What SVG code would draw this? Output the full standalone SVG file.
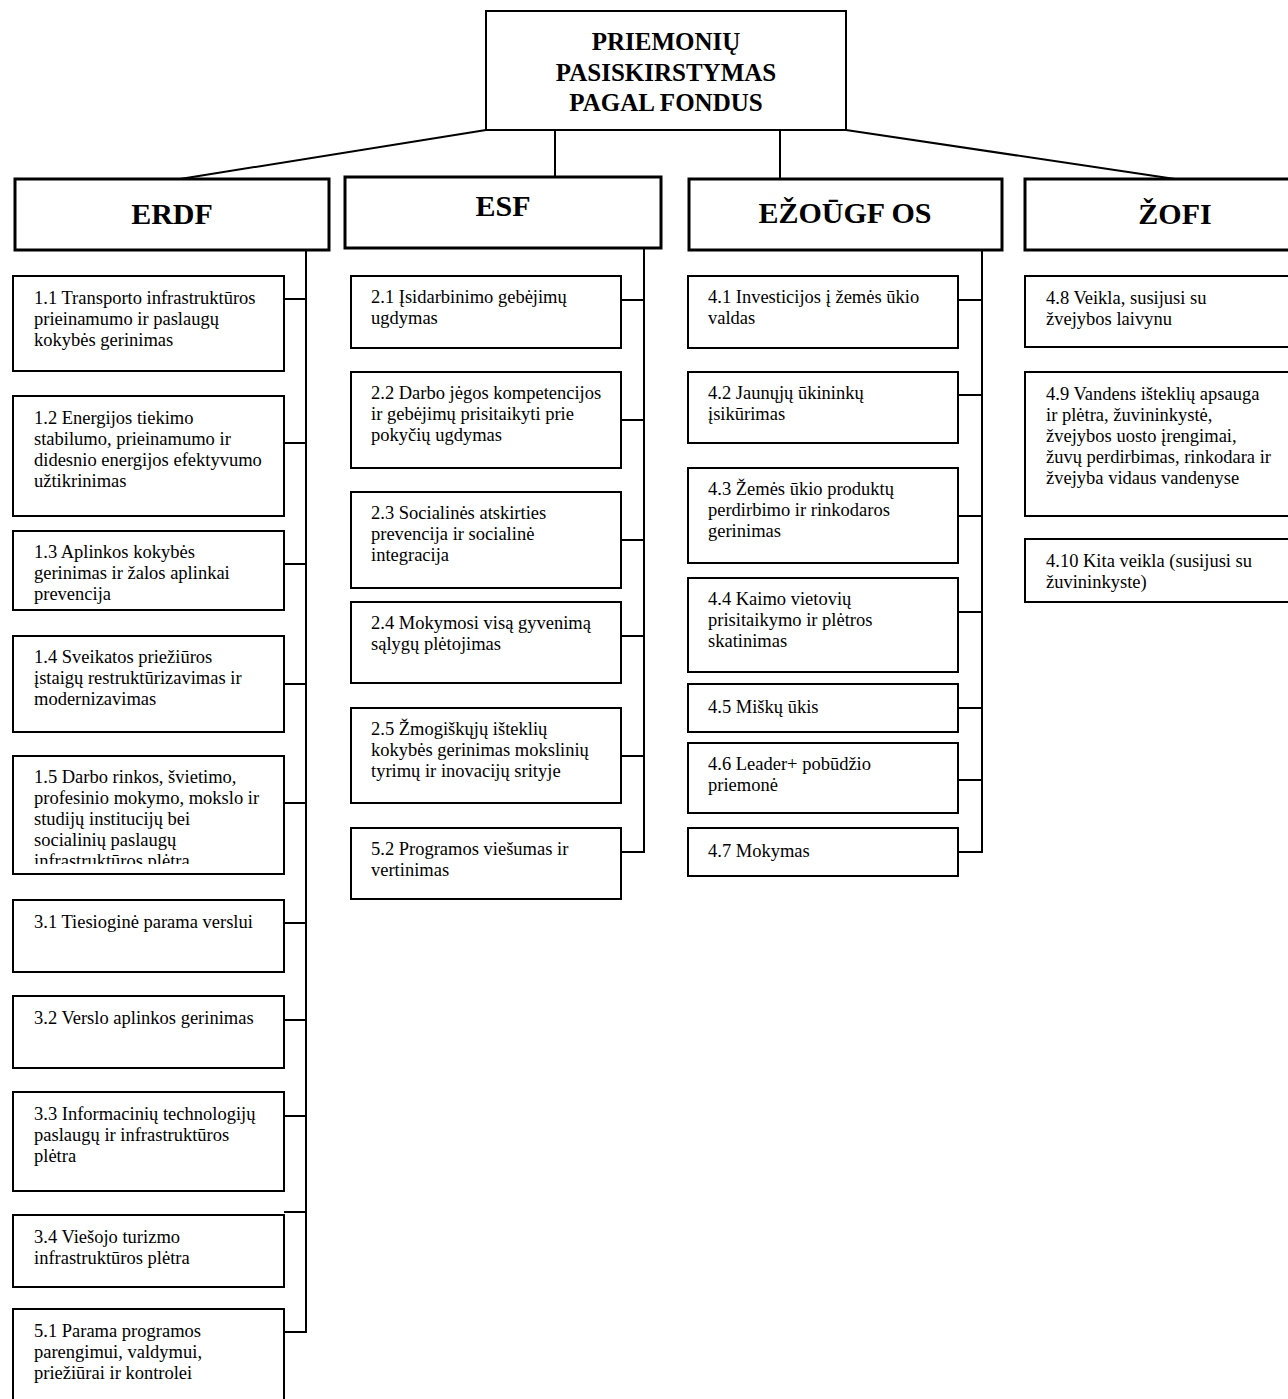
<svg xmlns="http://www.w3.org/2000/svg" width="1288" height="1399" viewBox="0 0 1288 1399">
<style>
.box{fill:#fff;stroke:#000;stroke-width:2}
.hdr{fill:#fff;stroke:#000;stroke-width:3}
.t{font-family:"Liberation Serif","Times New Roman",serif;font-size:18.5px;fill:#000}
.h{font-family:"Liberation Serif","Times New Roman",serif;font-size:30px;font-weight:bold;text-anchor:middle;fill:#000}
.ti{font-family:"Liberation Serif","Times New Roman",serif;font-size:25px;font-weight:bold;text-anchor:middle;fill:#000}
.c{stroke:#000;stroke-width:2;fill:none}
</style>
<defs>
<clipPath id="clip13"><rect x="13" y="531" width="271" height="73"/></clipPath>
<clipPath id="clip15"><rect x="13" y="756" width="271" height="108"/></clipPath>
</defs>
<rect width="1288" height="1399" fill="#fff"/>

<g id="connectors">
<line class="c" x1="486" y1="130" x2="180" y2="179"/>
<line class="c" x1="555" y1="130" x2="555" y2="177"/>
<line class="c" x1="780" y1="130" x2="780" y2="179"/>
<line class="c" x1="846" y1="130" x2="1175" y2="179"/>
<line class="c" x1="306" y1="250" x2="306" y2="1333"/>
<line class="c" x1="644" y1="248" x2="644" y2="853"/>
<line class="c" x1="982" y1="250" x2="982" y2="853"/>
<path class="c" d="M284 299H306M284 443H306M284 564H306M284 684H306M284 803H306M284 923H306M284 1020H306M284 1116H306M284 1212H306M284 1332H306"/>
<path class="c" d="M621 300H644M621 420H644M621 540H644M621 636H644M621 756H644M621 852H644"/>
<path class="c" d="M958 300H982M958 395H982M958 516H982M958 612H982M958 708H982M958 780H982M958 852H982"/>
</g>

<g id="root">
<rect class="box" x="486" y="11" width="360" height="119"/>
<text class="ti"><tspan x="666" y="50">PRIEMONIŲ</tspan><tspan x="666" y="81">PASISKIRSTYMAS</tspan><tspan x="666" y="111">PAGAL FONDUS</tspan></text>
</g>

<g id="erdf"><rect class="hdr" x="15" y="179" width="314" height="71"/><text class="h" x="172" y="224">ERDF</text></g>
<g id="esf"><rect class="hdr" x="345" y="177" width="316" height="71"/><text class="h" x="503" y="216">ESF</text></g>
<g id="ezougf"><rect class="hdr" x="689" y="179" width="313" height="71"/><text class="h" x="845" y="223">EŽOŪGF OS</text></g>
<g id="zofi"><rect class="hdr" x="1025" y="179" width="300" height="71"/><text class="h" x="1175" y="224">ŽOFI</text></g>

<g id="n11"><rect class="box" x="13" y="276" width="271" height="95"/><text class="t"><tspan x="34" y="304">1.1 Transporto infrastruktūros</tspan><tspan x="34" dy="21">prieinamumo ir paslaugų</tspan><tspan x="34" dy="21">kokybės gerinimas</tspan></text></g>
<g id="n12"><rect class="box" x="13" y="396" width="271" height="120"/><text class="t"><tspan x="34" y="424">1.2 Energijos tiekimo</tspan><tspan x="34" dy="21">stabilumo, prieinamumo ir</tspan><tspan x="34" dy="21">didesnio energijos efektyvumo</tspan><tspan x="34" dy="21">užtikrinimas</tspan></text></g>
<g id="n13"><rect class="box" x="13" y="531" width="271" height="79"/><text class="t" clip-path="url(#clip13)"><tspan x="34" y="558">1.3 Aplinkos kokybės</tspan><tspan x="34" dy="21">gerinimas ir žalos aplinkai</tspan><tspan x="34" dy="21">prevencija</tspan></text></g>
<g id="n14"><rect class="box" x="13" y="636" width="271" height="96"/><text class="t"><tspan x="34" y="663">1.4 Sveikatos priežiūros</tspan><tspan x="34" dy="21">įstaigų restruktūrizavimas ir</tspan><tspan x="34" dy="21">modernizavimas</tspan></text></g>
<g id="n15"><rect class="box" x="13" y="756" width="271" height="118"/><text class="t" clip-path="url(#clip15)"><tspan x="34" y="783">1.5 Darbo rinkos, švietimo,</tspan><tspan x="34" dy="21">profesinio mokymo, mokslo ir</tspan><tspan x="34" dy="21">studijų institucijų bei</tspan><tspan x="34" dy="21">socialinių paslaugų</tspan><tspan x="34" dy="21">infrastruktūros plėtra</tspan></text></g>
<g id="n31"><rect class="box" x="13" y="900" width="271" height="72"/><text class="t"><tspan x="34" y="928">3.1 Tiesioginė parama verslui</tspan></text></g>
<g id="n32"><rect class="box" x="13" y="996" width="271" height="72"/><text class="t"><tspan x="34" y="1024">3.2 Verslo aplinkos gerinimas</tspan></text></g>
<g id="n33"><rect class="box" x="13" y="1092" width="271" height="99"/><text class="t"><tspan x="34" y="1120">3.3 Informacinių technologijų</tspan><tspan x="34" dy="21">paslaugų ir infrastruktūros</tspan><tspan x="34" dy="21">plėtra</tspan></text></g>
<g id="n34"><rect class="box" x="13" y="1215" width="271" height="72"/><text class="t"><tspan x="34" y="1243">3.4 Viešojo turizmo</tspan><tspan x="34" dy="21">infrastruktūros plėtra</tspan></text></g>
<g id="n51"><rect class="box" x="13" y="1309" width="271" height="100"/><text class="t"><tspan x="34" y="1337">5.1 Parama programos</tspan><tspan x="34" dy="21">parengimui, valdymui,</tspan><tspan x="34" dy="21">priežiūrai ir kontrolei</tspan></text></g>

<g id="n21"><rect class="box" x="351" y="276" width="270" height="72"/><text class="t"><tspan x="371" y="303">2.1 Įsidarbinimo gebėjimų</tspan><tspan x="371" dy="21">ugdymas</tspan></text></g>
<g id="n22"><rect class="box" x="351" y="372" width="270" height="96"/><text class="t"><tspan x="371" y="399">2.2 Darbo jėgos kompetencijos</tspan><tspan x="371" dy="21">ir gebėjimų prisitaikyti prie</tspan><tspan x="371" dy="21">pokyčių ugdymas</tspan></text></g>
<g id="n23"><rect class="box" x="351" y="492" width="270" height="96"/><text class="t"><tspan x="371" y="519">2.3 Socialinės atskirties</tspan><tspan x="371" dy="21">prevencija ir socialinė</tspan><tspan x="371" dy="21">integracija</tspan></text></g>
<g id="n24"><rect class="box" x="351" y="602" width="270" height="81"/><text class="t"><tspan x="371" y="629">2.4 Mokymosi visą gyvenimą</tspan><tspan x="371" dy="21">sąlygų plėtojimas</tspan></text></g>
<g id="n25"><rect class="box" x="351" y="708" width="270" height="95"/><text class="t"><tspan x="371" y="735">2.5 Žmogiškųjų išteklių</tspan><tspan x="371" dy="21">kokybės gerinimas mokslinių</tspan><tspan x="371" dy="21">tyrimų ir inovacijų srityje</tspan></text></g>
<g id="n52"><rect class="box" x="351" y="828" width="270" height="71"/><text class="t"><tspan x="371" y="855">5.2 Programos viešumas ir</tspan><tspan x="371" dy="21">vertinimas</tspan></text></g>

<g id="n41"><rect class="box" x="688" y="276" width="270" height="72"/><text class="t"><tspan x="708" y="303">4.1 Investicijos į žemės ūkio</tspan><tspan x="708" dy="21">valdas</tspan></text></g>
<g id="n42"><rect class="box" x="688" y="372" width="270" height="71"/><text class="t"><tspan x="708" y="399">4.2 Jaunųjų ūkininkų</tspan><tspan x="708" dy="21">įsikūrimas</tspan></text></g>
<g id="n43"><rect class="box" x="688" y="468" width="270" height="95"/><text class="t"><tspan x="708" y="495">4.3 Žemės ūkio produktų</tspan><tspan x="708" dy="21">perdirbimo ir rinkodaros</tspan><tspan x="708" dy="21">gerinimas</tspan></text></g>
<g id="n44"><rect class="box" x="688" y="578" width="270" height="94"/><text class="t"><tspan x="708" y="605">4.4 Kaimo vietovių</tspan><tspan x="708" dy="21">prisitaikymo ir plėtros</tspan><tspan x="708" dy="21">skatinimas</tspan></text></g>
<g id="n45"><rect class="box" x="688" y="684" width="270" height="48"/><text class="t"><tspan x="708" y="713">4.5 Miškų ūkis</tspan></text></g>
<g id="n46"><rect class="box" x="688" y="743" width="270" height="70"/><text class="t"><tspan x="708" y="770">4.6 Leader+ pobūdžio</tspan><tspan x="708" dy="21">priemonė</tspan></text></g>
<g id="n47"><rect class="box" x="688" y="828" width="270" height="48"/><text class="t"><tspan x="708" y="857">4.7 Mokymas</tspan></text></g>

<g id="n48"><rect class="box" x="1025" y="276" width="300" height="71"/><text class="t"><tspan x="1046" y="304">4.8 Veikla, susijusi su</tspan><tspan x="1046" dy="21">žvejybos laivynu</tspan></text></g>
<g id="n49"><rect class="box" x="1025" y="372" width="300" height="144"/><text class="t"><tspan x="1046" y="400">4.9 Vandens išteklių apsauga</tspan><tspan x="1046" dy="21">ir plėtra, žuvininkystė,</tspan><tspan x="1046" dy="21">žvejybos uosto įrengimai,</tspan><tspan x="1046" dy="21">žuvų perdirbimas, rinkodara ir</tspan><tspan x="1046" dy="21">žvejyba vidaus vandenyse</tspan></text></g>
<g id="n410"><rect class="box" x="1025" y="539" width="300" height="63"/><text class="t"><tspan x="1046" y="567">4.10 Kita veikla (susijusi su</tspan><tspan x="1046" dy="21">žuvininkyste)</tspan></text></g>
</svg>
